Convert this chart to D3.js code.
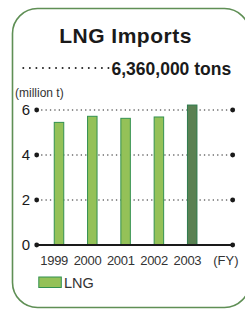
<!DOCTYPE html>
<html><head><meta charset="utf-8">
<script src="https://cdn.jsdelivr.net/npm/d3@7"></script>
<style>body{margin:0;background:#fff}svg{display:block}text{font-family:"Liberation Sans",Arial,Helvetica,sans-serif}</style>
</head><body>
<script>
const years = ["1999","2000","2001","2002","2003"];
const values = [5.45, 5.72, 5.63, 5.69, 6.22];
const yTicks = [0, 2, 4, 6];
const title = "LNG Imports";
const highlight = "6,360,000 tons";
const unit = "(million t)";
const xUnit = "(FY)";
const legendLabel = "LNG";

const W = 245, H = 309;
const svg = d3.select("body").append("svg").attr("width", W).attr("height", H);

svg.append("rect").attr("x", 12.5).attr("y", 8.5).attr("width", 237).attr("height", 299)
  .attr("rx", 25).attr("fill", "none").attr("stroke", "#5f8f55").attr("stroke-width", 1.6);

svg.append("text").attr("x", 125.5).attr("y", 43.3).attr("text-anchor", "middle")
  .attr("font-size", 21).attr("font-weight", "bold").attr("letter-spacing", 0.5).attr("fill", "#1a1a1a").text(title);

svg.append("line").attr("x1", 23.3).attr("x2", 108.5).attr("y1", 68).attr("y2", 68)
  .attr("stroke", "#222").attr("stroke-width", 2).attr("stroke-linecap", "round")
  .attr("stroke-dasharray", "0,6.55");
svg.append("text").attr("x", 111.5).attr("y", 75.3).attr("font-size", 17.5).attr("font-weight", "bold")
  .attr("fill", "#1a1a1a").text(highlight);

svg.append("text").attr("x", 15).attr("y", 96.7).attr("font-size", 12).attr("fill", "#333").text(unit);

const y = d3.scaleLinear().domain([0, 6]).range([245, 110]);
const x = d3.scaleBand().domain(years).range([42.35, 208.85]).padding(0);
const x0 = 36.7, x1 = 232.7;

const g = svg.append("g");
// dotted gridlines
g.selectAll("line.grid").data(yTicks.filter(d => d > 0)).join("line")
  .attr("x1", x0).attr("x2", x1).attr("y1", d => y(d)).attr("y2", d => y(d))
  .attr("stroke", "#222").attr("stroke-width", 1.2).attr("stroke-dasharray", "1.3,3.1");

// bars
const bw = 9.5;
g.selectAll("rect.bar").data(values).join("rect")
  .attr("x", (d, i) => x(years[i]) + x.bandwidth() / 2 - bw / 2)
  .attr("y", d => y(d)).attr("width", bw).attr("height", d => y(0) - y(d))
  .attr("fill", (d, i) => i === years.length - 1 ? "#5a8152" : "#94c158")
  .attr("stroke", (d, i) => i === years.length - 1 ? "#2d7a4c" : "#339150").attr("stroke-width", 1);

// baseline
g.append("line").attr("x1", x0).attr("x2", x1).attr("y1", y(0)).attr("y2", y(0))
  .attr("stroke", "#1a1a1a").attr("stroke-width", 1.8);

// end dots
yTicks.forEach(t => {
  [x0, x1].forEach(cx => g.append("circle").attr("cx", cx).attr("cy", y(t)).attr("r", 2.4).attr("fill", "#1a1a1a"));
});

// y tick labels
g.selectAll("text.yt").data(yTicks).join("text")
  .attr("x", 30).attr("y", d => y(d) + 5.3).attr("text-anchor", "end")
  .attr("font-size", 15).attr("fill", "#1a1a1a").text(d => d);

// x labels
g.selectAll("text.xt").data(years).join("text")
  .attr("x", d => x(d) + x.bandwidth() / 2 - 4.8).attr("y", 265)
  .attr("text-anchor", "middle").attr("font-size", 13).attr("letter-spacing", -0.3).attr("fill", "#333").text(d => d);
svg.append("text").attr("x", 238.5).attr("y", 265).attr("text-anchor", "end")
  .attr("font-size", 13).attr("fill", "#333").text(xUnit);

// legend
svg.append("rect").attr("x", 38.8).attr("y", 277).attr("width", 22.5).attr("height", 10.5)
  .attr("fill", "#94c158").attr("stroke", "#339150").attr("stroke-width", 1);
svg.append("text").attr("x", 64).attr("y", 288.3).attr("font-size", 14.5).attr("fill", "#333").text(legendLabel);
</script>
</body></html>
